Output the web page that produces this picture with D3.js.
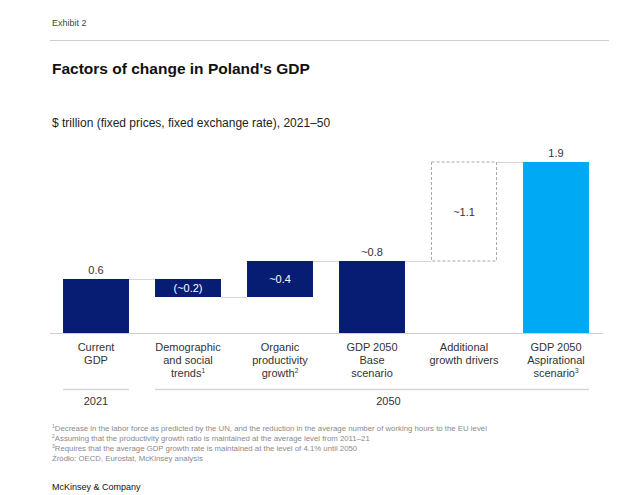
<!DOCTYPE html>
<html><head><meta charset="utf-8">
<script src="https://cdn.jsdelivr.net/npm/d3@7"></script>
<style>
html,body{margin:0;padding:0;background:#fff;}
text{font-family:"Liberation Sans",Arial,sans-serif;}
</style></head>
<body>
<svg id="chart" width="640" height="495"></svg>
<script>
// ---- data ----
const categories = [
  ["Current","GDP"],
  ["Demographic","and social","trends|1"],
  ["Organic","productivity","growth|2"],
  ["GDP 2050","Base","scenario"],
  ["Additional","growth drivers"],
  ["GDP 2050","Aspirational","scenario|3"]
];
const values = [0.6, -0.2, 0.4, 0.8, 1.1, 1.9];
const barTypes = ["total","delta","delta","total","potential","total"];
const valueLabels = ["0.6","(~0.2)","~0.4","~0.8","~1.1","1.9"];
const periodLabels = ["2021","2050"];
const periodSpans = [[0,0],[1,5]];
const footnotes = [
  ["1","Decrease in the labor force as predicted by the UN, and the reduction in the average number of working hours to the EU level"],
  ["2","Assuming that the productivity growth ratio is maintained at the average level from 2011\u201321"],
  ["3","Requires that the average GDP growth rate is maintained at the level of 4.1% until 2050"],
  [""," \u0179r\u00f3d\u0142o: OECD, Eurostat, McKinsey analysis"]
];

// ---- compute waterfall ----
let running = 0;
const bars = values.map((v,i)=>{
  let y0,y1;
  if (barTypes[i]==="total"){ y0=0; y1=v; running=v; }
  else { y0=running; y1=running+v; running=y1; }
  return {i, cat:categories[i], v, type:barTypes[i], label:valueLabels[i], lo:Math.min(y0,y1), hi:Math.max(y0,y1), end:y1};
});

const svg = d3.select("#chart");
const navy = "#061d73", blue = "#00a9f4";

// header
svg.append("text").attr("x",52).attr("y",26).attr("font-size",9).attr("fill","#444").text("Exhibit 2");
svg.append("line").attr("x1",50).attr("x2",609).attr("y1",40.5).attr("y2",40.5).attr("stroke","#cfcfcf").attr("stroke-width",1);
svg.append("text").attr("x",52).attr("y",74).attr("font-size",15.5).attr("font-weight","bold").attr("fill","#111").text("Factors of change in Poland's GDP");
svg.append("text").attr("x",52).attr("y",127).attr("font-size",12).attr("fill","#222").text("$ trillion (fixed prices, fixed exchange rate), 2021\u201350");

// scales
const x = d3.scaleBand().domain(d3.range(categories.length)).range([50,602]).paddingInner(0.283).paddingOuter(0.1415);
const y = d3.scaleLinear().domain([0,1.9]).range([333,162]);

// connectors
const conn = svg.append("g");
bars.forEach((b,i)=>{
  if(i===bars.length-1) return;
  const level = b.end;
  conn.append("line")
    .attr("x1", x(i)+x.bandwidth()).attr("x2", x(i+1))
    .attr("y1", Math.round(y(level))+0.5).attr("y2", Math.round(y(level))+0.5)
    .attr("stroke","#d6d6d6").attr("stroke-width",1);
});

// baseline
svg.append("line").attr("x1",50).attr("x2",603).attr("y1",y(0)+0.5).attr("y2",y(0)+0.5).attr("stroke","#d0d0d0").attr("stroke-width",1.2);

// bars
bars.forEach(b=>{
  const r = svg.append("rect")
    .attr("x", x(b.i)).attr("width", x.bandwidth())
    .attr("y", y(b.hi)).attr("height", y(b.lo)-y(b.hi));
  if(b.type==="potential"){
    r.attr("x", x(b.i)+0.5).attr("width", x.bandwidth()-1)
     .attr("fill","none").attr("stroke","#a8a8a8").attr("stroke-dasharray","3,2").attr("stroke-width",1);
  } else {
    r.attr("fill", b.i===bars.length-1 ? blue : navy);
  }
});

// value labels
bars.forEach(b=>{
  const cx = x(b.i)+x.bandwidth()/2;
  const t = svg.append("text").attr("x",cx).attr("text-anchor","middle").attr("font-size",11).text(b.label);
  if(b.type==="total"){
    t.attr("y", y(b.hi)-5).attr("fill","#333");
  } else if(b.type==="delta"){
    t.attr("y",(y(b.hi)+y(b.lo))/2+4).attr("fill","#fff");
  } else {
    t.attr("y",(y(b.hi)+y(b.lo))/2+4).attr("fill","#333");
  }
});

// category labels
bars.forEach(b=>{
  const cx = x(b.i)+x.bandwidth()/2;
  const t = svg.append("text").attr("text-anchor","middle").attr("font-size",11).attr("fill","#333");
  b.cat.forEach((line,k)=>{
    const [main,sup] = line.split("|");
    t.append("tspan").attr("x",cx).attr("y",351+k*13).text(main);
    if(sup){ t.append("tspan").attr("font-size",6.5).attr("dy",-4).text(sup); }
  });
});

// period groups
periodSpans.forEach((s,k)=>{
  const x1 = x(s[0]), x2 = x(s[1])+x.bandwidth();
  svg.append("line").attr("x1",x1).attr("x2",x2).attr("y1",389.5).attr("y2",389.5).attr("stroke","#d6d6d6").attr("stroke-width",1.5);
  const cx = s[0]===s[1] ? (x1+x2)/2 : (x(s[0])+x.bandwidth()/2 + x2)/2;
  svg.append("text").attr("x",cx).attr("y",405).attr("text-anchor","middle").attr("font-size",11).attr("fill","#333").text(periodLabels[k]);
});

// footnotes
footnotes.forEach((f,k)=>{
  const t = svg.append("text").attr("x",52).attr("y",431+k*10).attr("font-size",7.8).attr("fill","#8a8a8a");
  if(f[0]) t.append("tspan").attr("font-size",5).attr("dy",-3).text(f[0]);
  t.append("tspan").attr("dy", f[0]?3:0).text(f[1]);
});
svg.append("text").attr("x",52).attr("y",490).attr("font-size",9).attr("fill","#111").text("McKinsey & Company");
</script>
</body></html>
